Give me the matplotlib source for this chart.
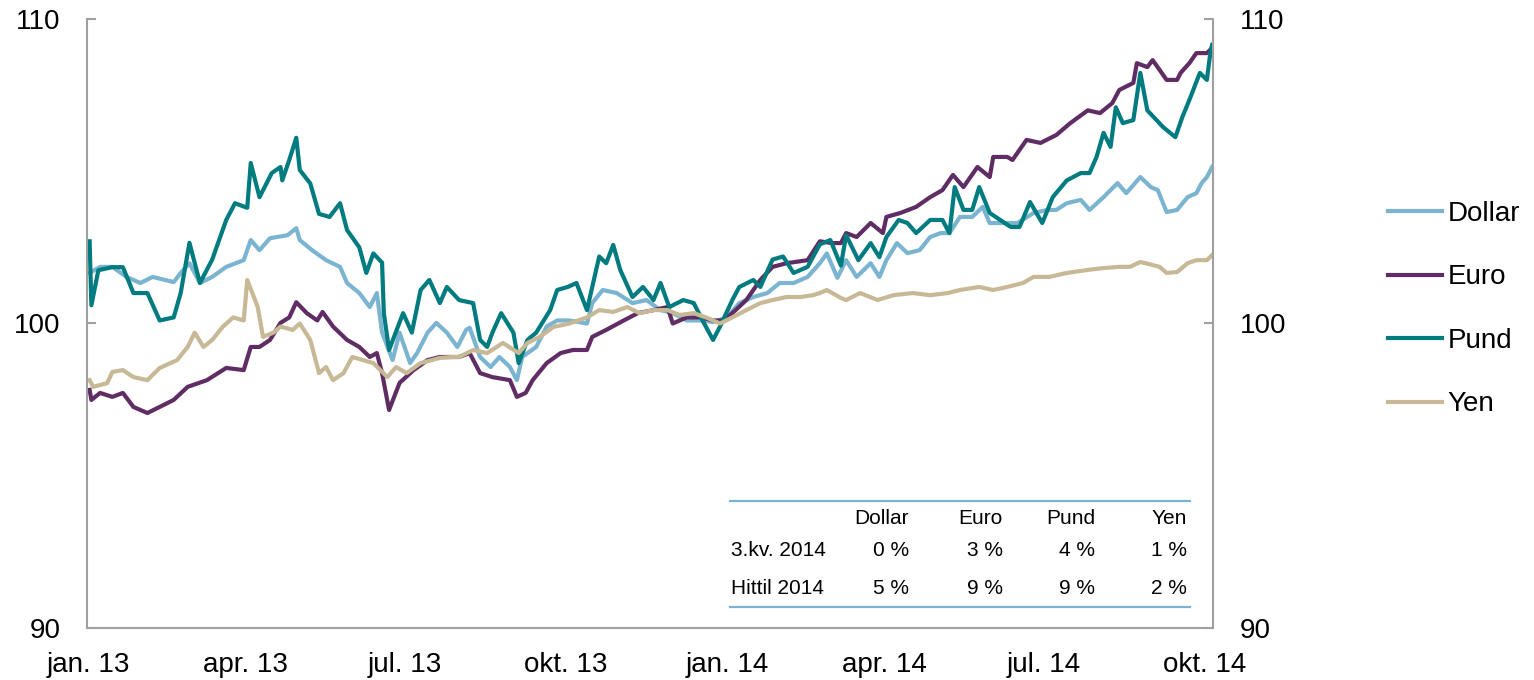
import matplotlib
matplotlib.use('Agg')
import matplotlib.pyplot as plt
from matplotlib.lines import Line2D
import pandas as pd

plt.rcParams['font.family'] = ['Liberation Sans', 'DejaVu Sans']

# days since 2013-01-01, index values
dollar_days = [1, 7, 14, 22, 30, 37, 49, 53, 58, 64, 71, 79, 89, 93, 98, 104, 114, 119, 121, 128,
               136, 144, 148, 155, 161, 165, 168, 174, 178, 184, 188, 194, 199, 205, 211, 216, 218,
               224, 230, 235, 241, 245, 248, 256, 262, 268, 275, 285, 288, 294, 302, 311, 319, 327,
               334, 342, 350, 357, 365, 372, 380, 388, 395, 403, 411, 418, 422, 428, 433, 439, 447,
               452, 456, 462, 468, 475, 481, 487, 492, 498, 505, 511, 515, 523, 531, 540, 548, 553,
               559, 567, 572, 580, 588, 593, 601, 607, 611, 616, 622, 628, 633, 636, 639, 642]
dollar_vals = [101.66, 101.86, 101.86, 101.53, 101.33, 101.53, 101.36, 101.66, 101.98, 101.33,
               101.53, 101.86, 102.08, 102.74, 102.41, 102.8, 102.9, 103.13, 102.74, 102.41,
               102.08, 101.86, 101.33, 101.0, 100.54, 101.0, 99.7, 98.8, 99.7, 98.7,
               99.03, 99.7, 100.02, 99.7, 99.23, 99.79, 99.86, 98.9, 98.57, 98.9,
               98.57, 98.14, 98.9, 99.23, 99.9, 100.1, 100.1, 100.0, 100.67, 101.1,
               101.0, 100.67, 100.77, 100.44, 100.34, 100.1, 100.1, 100.05, 100.2, 100.67,
               100.87, 101.0, 101.33, 101.33, 101.53, 101.98, 102.3, 101.5, 102.08, 101.53,
               101.98, 101.53, 102.08, 102.64, 102.31, 102.41, 102.84, 102.97, 102.97, 103.5,
               103.5, 103.83, 103.3, 103.3, 103.3, 103.63, 103.73, 103.73, 103.95, 104.06,
               103.73, 104.15, 104.61, 104.28, 104.81, 104.48, 104.38, 103.66, 103.73, 104.15,
               104.28, 104.61, 104.81, 105.14]

euro_days = [1, 2, 7, 14, 20, 26, 34, 41, 49, 57, 68, 79, 89, 93, 98, 104, 110, 115, 119, 125,
             131, 134, 140, 148, 155, 161, 165, 168, 172, 178, 186, 194, 201, 208, 212, 218, 224,
             231, 241, 245, 250, 254, 262, 270, 277, 285, 288, 296, 306, 314, 323, 331, 334, 342,
             350, 357, 363, 368, 376, 384, 391, 399, 411, 418, 425, 430, 433, 439, 447, 454, 456,
             464, 473, 481, 488, 494, 500, 508, 515, 517, 525, 528, 536, 544, 553, 561, 571, 578,
             585, 589, 597, 599, 605, 608, 612, 616, 622, 624, 629, 633, 639, 642]
euro_vals = [97.82, 97.49, 97.72, 97.59, 97.72, 97.26, 97.06, 97.26, 97.49, 97.92,
             98.14, 98.54, 98.47, 99.23, 99.23, 99.46, 100.02, 100.2, 100.7, 100.34,
             100.1, 100.38, 99.9, 99.46, 99.23, 98.9, 99.03, 98.37, 97.16, 98.05,
             98.47, 98.8, 98.9, 98.9, 98.9, 99.03, 98.37, 98.24, 98.14, 97.59,
             97.72, 98.14, 98.7, 99.03, 99.13, 99.13, 99.56, 99.79, 100.1, 100.34,
             100.44, 100.54, 100.0, 100.2, 100.2, 100.1, 100.1, 100.34, 100.77, 101.43,
             101.86, 101.98, 102.08, 102.7, 102.64, 102.64, 102.97, 102.84, 103.3, 102.97,
             103.5, 103.63, 103.83, 104.15, 104.38, 104.88, 104.48, 105.14, 104.81, 105.47,
             105.47, 105.37, 106.03, 105.93, 106.19, 106.58, 107.0, 106.91, 107.24, 107.67,
             107.9, 108.55, 108.42, 108.65, 108.33, 108.0, 108.0, 108.23, 108.55, 108.88,
             108.88, 109.05]

pund_days = [1, 2, 6, 14, 20, 26, 34, 41, 49, 53, 58, 64, 71, 79, 84, 91, 93, 98, 105, 110, 111,
             115, 119, 121, 127, 132, 138, 144, 148, 155, 159, 163, 168, 169, 172, 180, 185, 190,
             195, 201, 205, 212, 220, 224, 228, 231, 236, 243, 246, 251, 256, 264, 268, 274, 279,
             285, 292, 296, 300, 304, 311, 317, 323, 327, 332, 340, 346, 351, 357, 361, 368, 372,
             380, 384, 391, 397, 403, 411, 418, 424, 430, 433, 440, 447, 452, 456, 463, 468, 473,
             481, 488, 492, 495, 500, 505, 509, 515, 521, 527, 532, 538, 545, 551, 559, 567, 572,
             576, 580, 584, 587, 591, 597, 601, 605, 614, 621, 625, 629, 635, 639, 641, 642]
pund_vals = [102.7, 100.6, 101.75, 101.85, 101.85, 101.0, 101.0, 100.1, 100.2, 101.0,
             102.65, 101.33, 102.1, 103.4, 103.95, 103.8, 105.27, 104.15, 104.94, 105.14,
             104.7, 105.37, 106.1, 105.04, 104.6, 103.6, 103.5, 103.95, 103.07, 102.5,
             101.66, 102.3, 102.0, 100.34, 99.13, 100.34, 99.7, 101.1, 101.43, 100.67,
             101.2, 100.77, 100.67, 99.46, 99.23, 99.7, 100.34, 99.7, 98.7, 99.46,
             99.7, 100.44, 101.1, 101.2, 101.33, 100.44, 102.2, 101.98, 102.58, 101.76,
             100.87, 101.2, 100.77, 101.33, 100.54, 100.77, 100.67, 100.1, 99.46, 99.9,
             100.77, 101.2, 101.43, 101.2, 102.1, 102.2, 101.66, 101.86, 102.6, 102.74,
             101.9, 102.9, 102.08, 102.64, 102.18, 102.84, 103.4, 103.3, 102.97, 103.4,
             103.4, 102.97, 104.48, 103.73, 103.73, 104.48, 103.63, 103.4, 103.17, 103.17,
             103.99, 103.3, 104.15, 104.7, 104.94, 104.94, 105.47, 106.26, 105.8, 107.1,
             106.58, 106.68, 108.23, 107.0, 106.45, 106.12, 106.78, 107.34, 108.23, 108.0,
             108.9, 109.15]

yen_days = [1, 3, 11, 14, 20, 26, 34, 41, 51, 57, 61, 66, 71, 77, 83, 89, 91, 97, 100, 106, 110,
            117, 121, 127, 132, 136, 140, 146, 151, 157, 163, 171, 176, 182, 190, 201, 208, 212,
            220, 228, 237, 246, 251, 258, 266, 275, 285, 292, 300, 308, 315, 323, 331, 338, 346,
            353, 361, 368, 376, 384, 391, 399, 407, 414, 418, 422, 430, 433, 441, 451, 460, 471,
            481, 491, 498, 509, 517, 525, 534, 540, 549, 559, 571, 580, 589, 595, 601, 608, 612,
            616, 622, 628, 633, 639, 642]
yen_vals = [98.14, 97.92, 98.04, 98.41, 98.47, 98.24, 98.14, 98.54, 98.8, 99.23,
            99.7, 99.23, 99.46, 99.89, 100.2, 100.1, 101.43, 100.54, 99.56, 99.7,
            99.9, 99.79, 100.0, 99.46, 98.37, 98.57, 98.14, 98.37, 98.9, 98.8,
            98.7, 98.24, 98.57, 98.37, 98.7, 98.87, 98.9, 98.9, 99.13, 99.03,
            99.36, 99.03, 99.36, 99.56, 99.89, 100.0, 100.2, 100.44, 100.38, 100.54,
            100.34, 100.44, 100.44, 100.28, 100.34, 100.2, 100.0, 100.2, 100.44, 100.67,
            100.77, 100.87, 100.87, 100.93, 101.0, 101.1, 100.84, 100.77, 101.0, 100.77,
            100.93, 101.0, 100.93, 101.0, 101.1, 101.2, 101.1, 101.2, 101.33, 101.53,
            101.53, 101.66, 101.76, 101.82, 101.86, 101.86, 102.02, 101.92, 101.86, 101.66,
            101.69, 101.98, 102.08, 102.08, 102.25]

series_names = ['Dollar', 'Euro', 'Pund', 'Yen']
series_colors = ['#7BB4D0', '#5F2C63', '#007B7F', '#C7B995']

tick_months = ['2013-01-01', '2013-04-01', '2013-07-01', '2013-10-01',
               '2014-01-01', '2014-04-01', '2014-07-01', '2014-10-01']
tick_labels = ['jan. 13', 'apr. 13', 'jul. 13', 'okt. 13',
               'jan. 14', 'apr. 14', 'jul. 14', 'okt. 14']

table_cols = ['Dollar', 'Euro', 'Pund', 'Yen']
table_rows = ['3.kv. 2014', 'Hittil 2014']
table_vals = [['0 %', '3 %', '4 %', '1 %'],
              ['5 %', '9 %', '9 %', '2 %']]

base = pd.Timestamp('2013-01-01')


def to_dates(days):
    return base + pd.to_timedelta(days, unit='D')


W, H = 1534, 680
fig = plt.figure(figsize=(W / 100, H / 100), dpi=100)
fig.patch.set_facecolor('white')
ax = fig.add_axes([87 / W, 1 - 628 / H, (1213 - 87) / W, (628 - 19) / H])

all_days = [dollar_days, euro_days, pund_days, yen_days]
all_vals = [dollar_vals, euro_vals, pund_vals, yen_vals]
for days, vals, name, col in zip(all_days, all_vals, series_names, series_colors):
    ax.plot(to_dates(days), vals, color=col, lw=3.0, label=name, solid_joinstyle='round')

ax.set_xlim(base - pd.Timedelta(hours=12), base + pd.Timedelta(days=642.5))
ax.set_ylim(90, 110)
ax.set_yticks([90, 100, 110])
ax.set_xticks(pd.to_datetime(tick_months))
ax.set_xticklabels(tick_labels)

for s in ['left', 'right', 'bottom']:
    ax.spines[s].set_color('#A0A0A0')
    ax.spines[s].set_linewidth(1.5)
ax.spines['top'].set_visible(False)

ax.tick_params(axis='y', direction='in', length=6.5, width=1.5, color='#A0A0A0',
               labelsize=20, pad=19, right=True, labelright=True)
ax.tick_params(axis='x', length=0, labelsize=20, pad=17)

leg = fig.legend(loc='center left', bbox_to_anchor=(1388 / W, 1 - 309 / H),
                 frameon=False, fontsize=20, handlelength=1.95, handletextpad=0.2,
                 labelspacing=1.35, borderpad=0, borderaxespad=0)

# small summary table inside the plot
def fx(px):
    return px / W


def fy(py):
    return 1 - py / H


fig.add_artist(Line2D([fx(730), fx(1190)], [fy(501), fy(501)], color='#7BB4D0', lw=1.6))
fig.add_artist(Line2D([fx(730), fx(1190)], [fy(607), fy(607)], color='#7BB4D0', lw=1.6))
col_right = [909, 1003, 1095, 1187]
for c, xr in zip(table_cols, col_right):
    fig.text(fx(xr), fy(518), c, ha='right', va='center', fontsize=15)
for r, (rname, rvals) in enumerate(zip(table_rows, table_vals)):
    yy = [551, 589][r]
    fig.text(fx(731), fy(yy), rname, ha='left', va='center', fontsize=15)
    for v, xr in zip(rvals, col_right):
        fig.text(fx(xr), fy(yy), v, ha='right', va='center', fontsize=15)

fig.savefig('out.png', dpi=100, facecolor=fig.get_facecolor())
plt.close()
